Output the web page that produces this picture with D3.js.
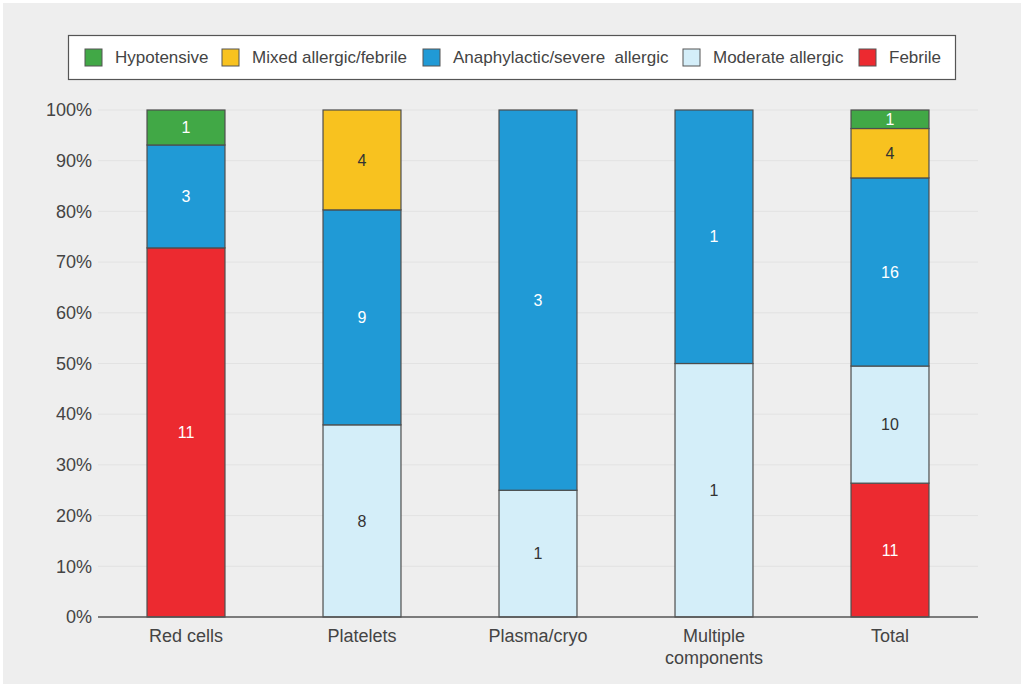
<!DOCTYPE html>
<html>
<head>
<meta charset="utf-8">
<script src="https://cdn.jsdelivr.net/npm/d3@7"></script>
<style>
  body { margin: 0; background: #fff; }
  svg { display: block; font-family: "Liberation Sans", Arial, sans-serif; }
</style>
</head>
<body>
<div id="chart"></div>
<script>
const categories = ["Red cells", "Platelets", "Plasma/cryo", "Multiple components", "Total"];
const seriesNames = ["Febrile", "Moderate allergic", "Anaphylactic/severe  allergic", "Mixed allergic/febrile", "Hypotensive"];
// segment heights, % of each bar
const febrilePct      = [72.8, 0, 0, 0, 26.4];
const moderatePct     = [0, 37.9, 25, 50, 23.1];
const anaphylacticPct = [20.3, 42.4, 75, 50, 37.1];
const mixedPct        = [0, 19.7, 0, 0, 9.75];
const hypotensivePct  = [6.9, 0, 0, 0, 3.65];
// counts printed in the segments
const febrileN      = [11, 0, 0, 0, 11];
const moderateN     = [0, 8, 1, 1, 10];
const anaphylacticN = [3, 9, 3, 1, 16];
const mixedN        = [0, 4, 0, 0, 4];
const hypotensiveN  = [1, 0, 0, 0, 1];
const yTicks = [0, 10, 20, 30, 40, 50, 60, 70, 80, 90, 100];
const legendOrder = ["Hypotensive", "Mixed allergic/febrile", "Anaphylactic/severe  allergic", "Moderate allergic", "Febrile"];

const colors = {
    "Febrile": "#ec2a30",
    "Moderate allergic": "#d4eef9",
    "Anaphylactic/severe  allergic": "#209ad6",
    "Mixed allergic/febrile": "#f8c21f",
    "Hypotensive": "#41a846"
};
const labelColors = {
    "Febrile": "#fff",
    "Moderate allergic": "#333",
    "Anaphylactic/severe  allergic": "#fff",
    "Mixed allergic/febrile": "#333",
    "Hypotensive": "#fff"
};

const pctValues = [febrilePct, moderatePct, anaphylacticPct, mixedPct, hypotensivePct];
const countValues = [febrileN, moderateN, anaphylacticN, mixedN, hypotensiveN];
const rows = categories.map((c, i) => {
    const row = { category: c, counts: {} };
    seriesNames.forEach((s, k) => {
        row[s] = pctValues[k][i];
        row.counts[s] = countValues[k][i];
    });
    return row;
});

const width = 1024, height = 687;
const margin = { left: 98, right: 46, top: 110, bottom: 70 };

const svg = d3.select("#chart").append("svg")
    .attr("width", width)
    .attr("height", height);

svg.append("rect")
    .attr("x", 3).attr("y", 3)
    .attr("width", width - 6).attr("height", height - 6)
    .attr("fill", "#eeeeee");

const xScale = d3.scaleBand()
    .domain(categories)
    .range([margin.left, width - margin.right])
    .paddingInner(0.557)
    .paddingOuter(0.2785);

const yScale = d3.scaleLinear()
    .domain([0, 100])
    .range([height - margin.bottom, margin.top]);

// gridlines
svg.append("g").selectAll("line")
    .data(yTicks.slice(1))
    .join("line")
    .attr("x1", margin.left).attr("x2", width - margin.right)
    .attr("y1", d => yScale(d)).attr("y2", d => yScale(d))
    .attr("stroke", "#e2e2e2")
    .attr("stroke-width", 1);

// y axis labels
const yAxis = svg.append("g")
    .attr("transform", `translate(${margin.left}, 0)`)
    .call(d3.axisLeft(yScale).tickValues(yTicks).tickFormat(d => d + "%").tickSize(0).tickPadding(6));
yAxis.select(".domain").remove();
yAxis.selectAll("text")
    .attr("font-size", 18)
    .attr("fill", "#444")
    .attr("font-family", "Liberation Sans, Arial, sans-serif");

// stacked bars
const stack = d3.stack().keys(seriesNames);
const layers = stack(rows);

const layerG = svg.append("g").selectAll("g")
    .data(layers)
    .join("g")
    .attr("fill", d => colors[d.key]);

const segs = d => d.map(p => ({ key: d.key, p })).filter(o => o.p[1] - o.p[0] > 0);

layerG.selectAll("rect")
    .data(segs)
    .join("rect")
    .attr("x", o => xScale(o.p.data.category))
    .attr("width", xScale.bandwidth())
    .attr("y", o => yScale(o.p[1]))
    .attr("height", o => yScale(o.p[0]) - yScale(o.p[1]))
    .attr("stroke", "#4d4d4d")
    .attr("stroke-width", 1.2);

layerG.selectAll("text")
    .data(segs)
    .join("text")
    .attr("x", o => xScale(o.p.data.category) + xScale.bandwidth() / 2)
    .attr("y", o => yScale((o.p[0] + o.p[1]) / 2))
    .attr("dy", "0.35em")
    .attr("text-anchor", "middle")
    .attr("font-size", 16)
    .attr("fill", o => labelColors[o.key])
    .text(o => o.p.data.counts[o.key]);

// x axis
const xAxis = svg.append("g")
    .attr("transform", `translate(0, ${yScale(0)})`)
    .call(d3.axisBottom(xScale).tickSize(0).tickFormat(""));
xAxis.select(".domain")
    .attr("d", `M${margin.left},0H${width - margin.right}`)
    .attr("stroke", "#555")
    .attr("stroke-width", 1.3);

const xLabels = {
    "Red cells": ["Red cells"],
    "Platelets": ["Platelets"],
    "Plasma/cryo": ["Plasma/cryo"],
    "Multiple components": ["Multiple", "components"],
    "Total": ["Total"]
};
svg.append("g").selectAll("text")
    .data(categories)
    .join("text")
    .attr("x", d => xScale(d) + xScale.bandwidth() / 2)
    .attr("y", yScale(0) + 25)
    .attr("text-anchor", "middle")
    .attr("font-size", 18)
    .attr("fill", "#444")
    .selectAll("tspan")
    .data(d => xLabels[d].map(t => ({ t, d })))
    .join("tspan")
    .attr("x", o => xScale(o.d) + xScale.bandwidth() / 2)
    .attr("dy", (o, i) => i === 0 ? 0 : 22)
    .text(o => o.t);

// legend
const legend = svg.append("g");
legend.append("rect")
    .attr("x", 68.5).attr("y", 35.5)
    .attr("width", 887).attr("height", 44)
    .attr("fill", "#fff")
    .attr("stroke", "#555")
    .attr("stroke-width", 1.2);

const legendX = [85, 222, 423, 683, 859];
const items = legend.selectAll("g.item")
    .data(legendOrder)
    .join("g")
    .attr("class", "item")
    .attr("transform", (d, i) => `translate(${legendX[i]}, 49)`);
items.append("rect")
    .attr("width", 17).attr("height", 17)
    .attr("fill", d => colors[d])
    .attr("stroke", "#555")
    .attr("stroke-width", 1);
items.append("text")
    .attr("x", 30).attr("y", 8.5)
    .attr("dy", "0.35em")
    .attr("font-size", 17)
    .attr("fill", "#444")
    .style("white-space", "pre")
    .text(d => d);
</script>
</body>
</html>
